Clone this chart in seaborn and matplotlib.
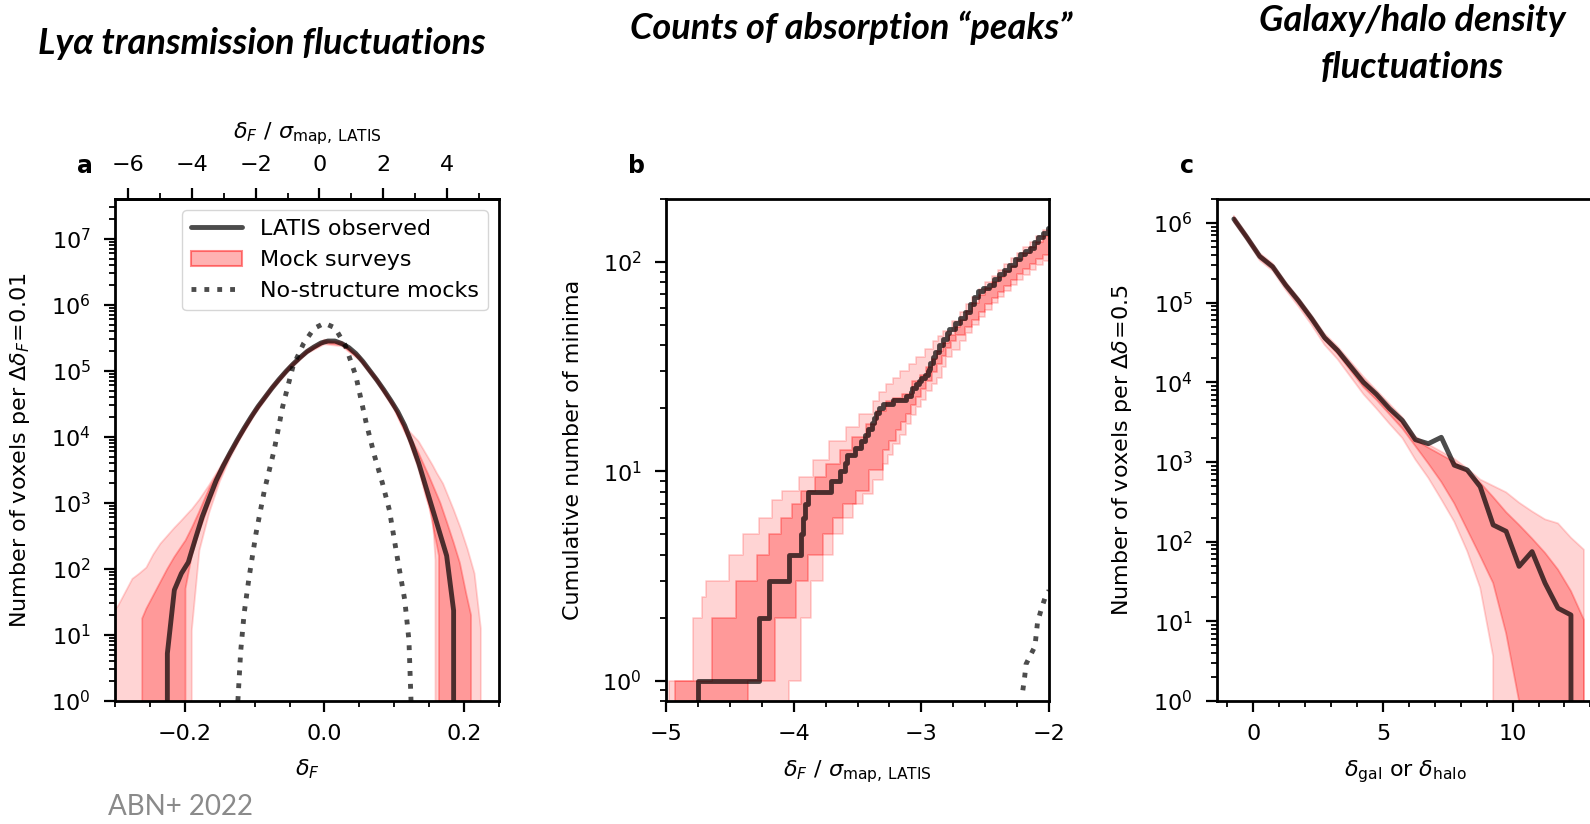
import numpy as np
import matplotlib
matplotlib.use("Agg")
import matplotlib.pyplot as plt
import seaborn as sns
from matplotlib.patches import Patch
from matplotlib.lines import Line2D
from matplotlib.ticker import MultipleLocator, LogLocator, NullFormatter, FixedLocator

NONE = -np.inf  # log10 of an empty bin

# ---------------- panel a: PDF of the flux contrast (log10 counts per bin) ----------------
a_obs_x = [-0.235, -0.225, -0.215, -0.205, -0.195, -0.185, -0.175, -0.165, -0.155, -0.145,
           -0.135, -0.125, -0.115, -0.105, -0.095, -0.085, -0.075, -0.065, -0.055, -0.045,
           -0.035, -0.025, -0.015, -0.005, 0.005, 0.015, 0.025, 0.035, 0.045, 0.055,
           0.065, 0.075, 0.085, 0.095, 0.105, 0.115, 0.125, 0.135, 0.145, 0.155,
           0.165, 0.175, 0.185, 0.195]
a_obs_log = [NONE, 0.72, 1.68, 1.93, 2.10, 2.45, 2.79, 3.07, 3.34, 3.56,
             3.76, 3.95, 4.13, 4.30, 4.46, 4.60, 4.74, 4.87, 4.99, 5.10,
             5.20, 5.29, 5.36, 5.42, 5.45, 5.45, 5.41, 5.35, 5.26, 5.14,
             5.00, 4.86, 4.71, 4.55, 4.38, 4.17, 3.90, 3.60, 3.25, 2.90,
             2.55, 2.20, 1.37, NONE]

a_null_x = [-0.124, -0.120, -0.115, -0.108, -0.098, -0.086, -0.072, -0.060, -0.045, -0.030,
            -0.015, 0.0, 0.015, 0.030, 0.045, 0.060, 0.072, 0.083, 0.093, 0.105,
            0.115, 0.121, 0.124]
a_null_log = [0.0, 0.75, 1.33, 1.87, 2.54, 3.19, 3.80, 4.45, 5.07, 5.41,
              5.64, 5.72, 5.65, 5.38, 4.92, 4.20, 3.70, 3.30, 2.89, 2.13,
              1.53, 0.92, 0.0]

a_out_x = [-0.305, -0.295, -0.285, -0.275, -0.265, -0.255, -0.245, -0.235, -0.225, -0.215,
           -0.205, -0.192, -0.190, -0.179, -0.165, -0.150, -0.135, -0.120, -0.100, -0.075,
           -0.050, -0.025, 0.000, 0.025, 0.050, 0.075, 0.100, 0.120, 0.135, 0.145,
           0.155, 0.159, 0.161, 0.170, 0.185, 0.195, 0.205, 0.215, 0.224, 0.226]
a_out_hi = [1.30, 1.45, 1.65, 1.85, 1.93, 2.02, 2.22, 2.38, 2.50, 2.62,
            2.73, 2.88, 2.90, 3.05, 3.27, 3.53, 3.80, 4.08, 4.42, 4.78,
            5.08, 5.32, 5.47, 5.44, 5.23, 4.90, 4.50, 4.10, 3.93, 3.75,
            3.57, 3.49, 3.45, 3.29, 2.90, 2.62, 2.30, 1.93, 1.10, NONE]
a_out_lo = [NONE, NONE, NONE, NONE, NONE, NONE, NONE, NONE, NONE, NONE,
            NONE, NONE, 1.07, 2.28, 2.85, 3.32, 3.68, 3.98, 4.33, 4.70,
            5.01, 5.26, 5.40, 5.37, 5.16, 4.82, 4.41, 3.96, 3.50, 3.10,
            2.79, 2.13, NONE, NONE, NONE, NONE, NONE, NONE, NONE, NONE]

a_in_x = [-0.263, -0.261, -0.255, -0.245, -0.235, -0.225, -0.215, -0.201, -0.199, -0.190,
          -0.180, -0.165, -0.150, -0.135, -0.120, -0.100, -0.075, -0.050, -0.025, 0.000,
          0.025, 0.050, 0.075, 0.100, 0.120, 0.135, 0.150, 0.164, 0.166, 0.175,
          0.185, 0.194, 0.203, 0.210, 0.212]
a_in_hi = [NONE, 1.25, 1.40, 1.60, 1.80, 2.00, 2.18, 2.40, 2.43, 2.62,
           2.85, 3.22, 3.50, 3.78, 4.06, 4.40, 4.76, 5.06, 5.30, 5.45,
           5.42, 5.21, 4.88, 4.48, 4.06, 3.75, 3.40, 3.05, 3.00, 2.72,
           2.40, 2.09, 1.63, 1.30, NONE]
a_in_lo = [NONE, NONE, NONE, NONE, NONE, NONE, NONE, NONE, 1.70, 2.20,
           2.55, 2.98, 3.38, 3.72, 4.00, 4.35, 4.72, 5.03, 5.27, 5.42,
           5.39, 5.18, 4.84, 4.43, 3.98, 3.55, 2.95, 2.20, NONE, NONE,
           NONE, NONE, NONE, NONE, NONE]

# top-axis conversion: delta_F / sigma_map
a_mean, a_sigma = -0.0072, 0.0456
a_top_ticks = [-6, -4, -2, 0, 2, 4]

# ---------------- panel b: cumulative counts of flux minima ----------------
b_obs_x = [-5.5, -4.747, -4.27, -4.19, -4.04, -3.944, -3.925, -3.91, -3.89, -3.71, -3.64,
           -3.60, -3.58, -3.52, -3.47, -3.44, -3.42, -3.39, -3.37, -3.355, -3.33,
           -3.30, -3.22, -3.12, -3.08, -3.07, -3.04, -3.02, -3.00, -2.97, -2.95,
           -2.94, -2.93, -2.91, -2.89, -2.86, -2.83, -2.80, -2.78, -2.74, -2.70,
           -2.66, -2.62, -2.59, -2.56, -2.52, -2.47, -2.43, -2.39, -2.35, -2.31,
           -2.27, -2.23, -2.19, -2.15, -2.12, -2.09, -2.05, -2.01, -1.95]
b_obs_n = [0, 1, 2, 3, 4, 5, 6, 7, 8, 9, 10,
           11, 12, 13, 14, 15, 16, 17, 18, 19, 20,
           21, 22, 23, 24, 25, 26, 27, 28, 29, 30,
           31, 33, 35, 37, 40, 43, 46, 48, 51, 54,
           58, 63, 68, 73, 75, 78, 83, 88, 92, 97,
           103, 109, 113, 117, 125, 131, 138, 146, 150]

b_null_x = [-2.205, -2.19, -2.18, -2.11, -2.09, -2.06, -2.03, -2.0]
b_null_n = [0.9, 1.05, 1.2, 1.46, 1.9, 2.2, 2.5, 2.7]

b_out_hi_x = [-4.976, -4.79, -4.72, -4.69, -4.51, -4.40, -4.27, -4.17, -4.09, -3.96,
              -3.85, -3.72, -3.59, -3.49, -3.38, -3.33, -3.28, -3.22, -3.17, -3.10,
              -3.04, -2.97, -2.91, -2.87, -2.83, -2.76, -2.70, -2.65, -2.60, -2.55,
              -2.50, -2.45, -2.40, -2.35, -2.30, -2.25, -2.20, -2.15, -2.10, -2.05, -2.00]
b_out_hi_n = [1, 2, 2.5, 3, 4, 5, 6, 7.3, 8.1, 9.4,
              11.3, 14, 16.3, 18.8, 21.8, 24, 26, 28, 30, 32.5,
              35, 38.5, 42, 44.5, 47, 52, 58, 63, 68, 74,
              80, 86, 92, 98, 104, 111, 118, 125, 133, 142, 152]
b_out_lo_x = [-4.035, -3.944, -3.865, -3.774, -3.695, -3.617, -3.539, -3.46, -3.38, -3.30,
              -3.26, -3.22, -3.17, -3.12, -3.08, -3.04, -3.00, -2.96, -2.92, -2.88,
              -2.84, -2.81, -2.76, -2.70, -2.65, -2.60, -2.55, -2.50, -2.45, -2.40,
              -2.35, -2.30, -2.25, -2.20, -2.15, -2.10, -2.05, -2.00]
b_out_lo_n = [1, 2, 3, 4, 5, 6, 7, 7.8, 9.1, 10.9,
              12, 13.5, 15, 16.9, 18.5, 20.2, 22, 24.3, 26, 28,
              31.5, 35, 38, 42, 46, 50, 54.5, 59, 63.5, 68,
              73, 78, 82.5, 87, 92, 97, 101.5, 106]
b_in_hi_x = [-4.93, -4.64, -4.45, -4.29, -4.19, -4.10, -4.01, -3.94, -3.83, -3.75,
             -3.64, -3.54, -3.43, -3.355, -3.28, -3.22, -3.15, -3.07, -3.01, -2.96,
             -2.92, -2.88, -2.83, -2.78, -2.74, -2.70, -2.65, -2.60, -2.55, -2.50,
             -2.45, -2.40, -2.35, -2.30, -2.25, -2.20, -2.15, -2.10, -2.05, -2.00]
b_in_hi_n = [1, 2, 3, 4, 5, 6, 7, 8.1, 9.4, 10.9,
             12.6, 14.6, 16.9, 19.5, 21.8, 22.5, 23.4, 27, 29, 31.4,
             34.5, 37.7, 41, 45, 49, 53, 58.5, 64, 69.5, 75,
             80, 85, 90.5, 96, 103, 110, 117.5, 125, 133.5, 142]
b_in_lo_x = [-4.357, -4.145, -3.983, -3.884, -3.774, -3.695, -3.617, -3.51, -3.41, -3.30,
             -3.25, -3.20, -3.16, -3.12, -3.08, -3.04, -3.00, -2.96, -2.92, -2.88,
             -2.84, -2.81, -2.77, -2.73, -2.66, -2.60, -2.55, -2.50, -2.45, -2.40,
             -2.35, -2.30, -2.25, -2.20, -2.15, -2.10, -2.05, -2.00]
b_in_lo_n = [1, 2, 3, 4, 5, 6, 7, 8.1, 10.1, 12.6,
             14, 15.7, 17.2, 18.8, 20.7, 22.6, 24.7, 27, 29.7, 32.6,
             35.7, 39, 42, 45, 49, 53, 58, 63, 67.5, 72,
             77, 82, 87.5, 93, 98, 103, 107.5, 112]

# ---------------- panel c: galaxy / halo overdensity PDF (log10 counts) ----------------
c_x = [-0.75, -0.25, 0.25, 0.75, 1.25, 1.75, 2.25, 2.75, 3.25, 3.75,
       4.25, 4.75, 5.25, 5.75, 6.25, 6.75, 7.25, 7.75, 8.25, 8.75,
       9.25, 9.75, 10.25, 10.75, 11.25, 11.75, 12.25, 12.75, 13.25]
c_obs_log = [6.05, 5.82, 5.58, 5.45, 5.22, 5.02, 4.80, 4.56, 4.40, 4.20,
             4.00, 3.85, 3.67, 3.52, 3.28, 3.23, 3.31, 2.96, 2.90, 2.69,
             2.21, 2.13, 1.69, 1.875, 1.48, 1.165, 1.08, NONE, NONE]
c_in_hi = [6.07, 5.84, 5.60, 5.47, 5.24, 5.04, 4.82, 4.58, 4.42, 4.22,
           4.03, 3.86, 3.68, 3.50, 3.28, 3.18, 3.09, 3.00, 2.88, 2.74,
           2.56, 2.37, 2.21, 2.04, 1.86, 1.65, 1.38, 1.02, NONE]
c_in_lo = [6.03, 5.80, 5.56, 5.43, 5.20, 4.99, 4.77, 4.53, 4.36, 4.15,
           3.94, 3.78, 3.60, 3.42, 3.20, 2.98, 2.75, 2.48, 2.15, 1.82,
           1.48, 0.85, 0.0, NONE, NONE, NONE, NONE, NONE, NONE]
c_out_hi = [6.09, 5.86, 5.62, 5.49, 5.26, 5.06, 4.84, 4.61, 4.45, 4.26,
            4.07, 3.90, 3.73, 3.56, 3.32, 3.22, 3.13, 3.04, 2.92, 2.78,
            2.70, 2.62, 2.49, 2.38, 2.28, 2.23, 2.05, 1.90, NONE]
c_out_lo = [6.01, 5.78, 5.53, 5.40, 5.16, 4.95, 4.72, 4.47, 4.29, 4.07,
            3.85, 3.67, 3.48, 3.30, 3.03, 2.80, 2.53, 2.25, 1.88, 1.42,
            0.56, NONE, NONE, NONE, NONE, NONE, NONE, NONE, NONE]

titles = ["Ly\u03b1 transmission fluctuations",
          "Counts of absorption \u201cpeaks\u201d",
          "Galaxy/halo density\nfluctuations"]
legend_labels = ["LATIS observed", "Mock surveys", "No-structure mocks"]

# ---------------- style ----------------
sns.set_theme(style="ticks")
plt.rcParams.update({
    "font.family": ["DejaVu Sans"],
    "mathtext.fontset": "dejavusans",
    "font.size": 16,
    "axes.edgecolor": "black",
    "axes.linewidth": 2.0,
    "axes.labelcolor": "black",
    "text.color": "black",
    "xtick.color": "black",
    "ytick.color": "black",
    "xtick.labelsize": 16,
    "ytick.labelsize": 16,
    "axes.labelsize": 16,
    "legend.fontsize": 16,
    "xtick.major.size": 8, "xtick.major.width": 1.6,
    "xtick.minor.size": 4.5, "xtick.minor.width": 1.3,
    "ytick.major.size": 8, "ytick.major.width": 1.6,
    "ytick.minor.size": 4.5, "ytick.minor.width": 1.3,
    "xtick.major.pad": 8.5, "ytick.major.pad": 9.5,
    "xtick.direction": "out", "ytick.direction": "out",
})

RED = "red"
OUT_ALPHA, IN_ALPHA = 0.17, 0.28
LINE_KW = dict(color="black", alpha=0.7, lw=3.5)
XLABEL_PAD, YLABEL_PAD = 10, 14

fig = plt.figure(figsize=(15.9, 8.24), dpi=100)
W, H = 1590.0, 824.0
axA = fig.add_axes([115 / W, 1 - 701 / H, 384 / W, 502 / H])
axB = fig.add_axes([666 / W, 1 - 701 / H, 383 / W, 502 / H])
axC = fig.add_axes([1217 / W, 1 - 701 / H, 376 / W, 502 / H])


def counts(logs):
    return 10.0 ** np.asarray(logs, dtype=float)


def band(ax, x, lo, hi, alpha, **kw):
    ax.fill_between(x, lo, hi, facecolor=RED, edgecolor=RED, alpha=alpha, lw=1.3, **kw)


def log_axis(ax, lo, hi):
    ax.set_yscale("log", nonpositive="clip")
    ax.set_ylim(lo, hi)
    ax.yaxis.set_major_locator(LogLocator(base=10, numticks=20))
    ax.yaxis.set_minor_locator(LogLocator(base=10, subs=np.arange(2, 10), numticks=20))
    ax.yaxis.set_minor_formatter(NullFormatter())


# ---- panel a ----
band(axA, a_out_x, counts(a_out_lo), counts(a_out_hi), OUT_ALPHA)
band(axA, a_in_x, counts(a_in_lo), counts(a_in_hi), IN_ALPHA)
sns.lineplot(x=a_null_x, y=counts(a_null_log), ax=axA, estimator=None, sort=False,
             ls=":", legend=False, **LINE_KW)
sns.lineplot(x=a_obs_x, y=counts(a_obs_log), ax=axA, estimator=None, sort=False,
             legend=False, **LINE_KW)
log_axis(axA, 1, 10 ** 7.6)
axA.set_xlim(-0.3, 0.25)
axA.xaxis.set_major_locator(MultipleLocator(0.2))
axA.xaxis.set_minor_locator(MultipleLocator(0.05))
axA.set_xlabel(r"$\delta_F$", labelpad=XLABEL_PAD)
axA.set_ylabel(r"Number of voxels per $\Delta\delta_F\!=\!0.01$", labelpad=YLABEL_PAD)
sec = axA.secondary_xaxis("top", functions=(lambda v: (v - a_mean) / a_sigma,
                                            lambda t: t * a_sigma + a_mean))
sec.xaxis.set_major_locator(FixedLocator(a_top_ticks))
sec.xaxis.set_minor_locator(FixedLocator(np.arange(-6, 6)))
sec.tick_params(axis="x", which="major", pad=9)
sec.set_xlabel(r"$\delta_F\ /\ \sigma_{\rm map,\,LATIS}$", labelpad=12)
handles = [Line2D([], [], **LINE_KW),
           Patch(facecolor=(1, 0, 0, 0.3), edgecolor=(1, 0, 0, 0.45), lw=1.5),
           Line2D([], [], ls=":", **LINE_KW)]
axA.legend(handles, legend_labels, loc="upper right", handlelength=2.3,
           borderaxespad=0.5, fancybox=True, edgecolor="0.8")

# ---- panel b ----
grid = np.unique(np.concatenate([[-5.1], b_out_hi_x, b_out_lo_x, b_in_hi_x, b_in_lo_x, [-1.9]]))


def step_eval(xj, nj, g):
    idx = np.searchsorted(np.asarray(xj), g, side="right") - 1
    vals = np.asarray(nj, dtype=float)[np.clip(idx, 0, None)]
    return np.where(idx >= 0, vals, 0.0)


band(axB, grid, step_eval(b_out_lo_x, b_out_lo_n, grid),
     step_eval(b_out_hi_x, b_out_hi_n, grid), OUT_ALPHA, step="post")
band(axB, grid, step_eval(b_in_lo_x, b_in_lo_n, grid),
     step_eval(b_in_hi_x, b_in_hi_n, grid), IN_ALPHA, step="post")
sns.lineplot(x=b_null_x, y=b_null_n, ax=axB, estimator=None, sort=False,
             ls=":", legend=False, **LINE_KW)
sns.lineplot(x=b_obs_x, y=b_obs_n, ax=axB, estimator=None, sort=False,
             drawstyle="steps-post", legend=False, **LINE_KW)
log_axis(axB, 0.8, 200)
axB.set_xlim(-5, -2)
axB.xaxis.set_major_locator(MultipleLocator(1))
axB.xaxis.set_minor_locator(MultipleLocator(0.25))
axB.set_xlabel(r"$\delta_F\ /\ \sigma_{\rm map,\,LATIS}$", labelpad=XLABEL_PAD)
axB.set_ylabel("Cumulative number of minima", labelpad=YLABEL_PAD)

# ---- panel c ----
band(axC, c_x, counts(c_out_lo), counts(c_out_hi), OUT_ALPHA)
band(axC, c_x, counts(c_in_lo), counts(c_in_hi), IN_ALPHA)
sns.lineplot(x=c_x, y=counts(c_obs_log), ax=axC, estimator=None, sort=False,
             legend=False, **LINE_KW)
log_axis(axC, 1, 2e6)
axC.set_xlim(-1.4, 13.1)
axC.xaxis.set_major_locator(MultipleLocator(5))
axC.xaxis.set_minor_locator(MultipleLocator(1))
axC.set_xlabel(r"$\delta_{\rm gal}$ or $\delta_{\rm halo}$", labelpad=XLABEL_PAD)
axC.set_ylabel(r"Number of voxels per $\Delta\delta\!=\!0.5$", labelpad=YLABEL_PAD)

# ---- panel letters, headings, credit ----
for lx, letter in [(85, "a"), (636, "b"), (1187, "c")]:
    fig.text(lx / W, 1 - 166 / H, letter, fontsize=17, weight="bold", ha="center", va="center")

title_font = dict(family=["Lato", "DejaVu Sans"], style="italic", weight="bold", fontsize=26,
                  ha="center", va="center")
fig.text(262 / W, 1 - 43 / H, titles[0], **title_font)
fig.text(851 / W, 1 - 28 / H, titles[1], **title_font)
fig.text(1412 / W, 1 - 44 / H, titles[2], linespacing=1.5, **title_font)
fig.text(108 / W, 1 - 807 / H, "ABN+ 2022", color="#8a8a8a", fontsize=20,
         family=["Lato", "DejaVu Sans"], ha="left", va="center")

fig.savefig("out.png", dpi=100)
